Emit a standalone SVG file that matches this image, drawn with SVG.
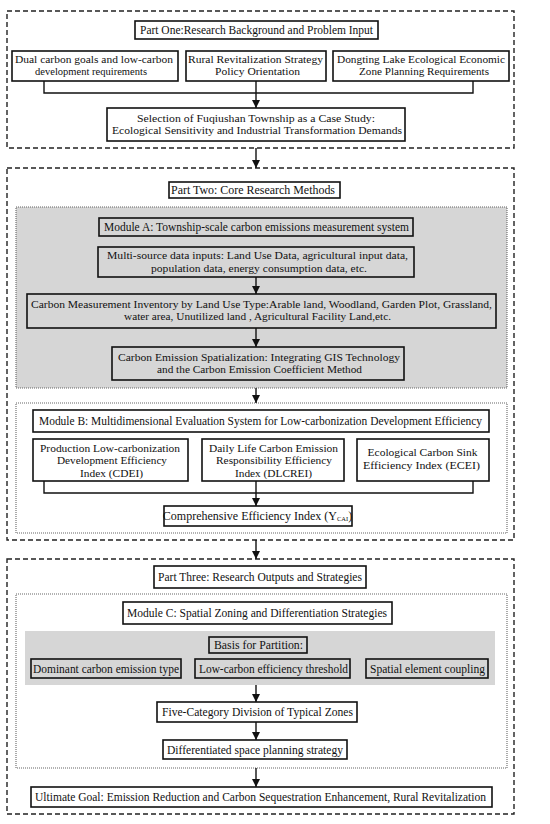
<svg xmlns="http://www.w3.org/2000/svg" width="550" height="824" viewBox="0 0 550 824">
<defs>
<marker id="ah" viewBox="0 0 8 10" refX="8" refY="5" markerWidth="8" markerHeight="10" markerUnits="userSpaceOnUse" orient="auto">
<path d="M0,1 L8,5 L0,9 Z" fill="#111"/>
</marker>
<style>
.part{fill:#fff;stroke:#222;stroke-width:1.4;stroke-dasharray:5 3}
.mod{stroke:#666;stroke-width:1.1;stroke-dasharray:1 1}
.grey{fill:#d6d6d6}
.box{fill:#fff;stroke:#111;stroke-width:1.6}
.gbox{fill:#d6d6d6;stroke:#111;stroke-width:1.6}
text{font-family:"Liberation Serif","Times New Roman",serif;font-size:12px;fill:#111;text-anchor:middle}
text.m{font-size:11px}
.c{fill:none;stroke:#111;stroke-width:1.4}
</style>
</defs>
<rect width="550" height="824" fill="#fff"/>

<g id="part1">
<rect class="part" x="7" y="11" width="507" height="137"/>
</g>
<g id="part2">
<rect class="part" x="7" y="168" width="507" height="372"/>
</g>
<g id="part3">
<rect class="part" x="7" y="559" width="507" height="255"/>
</g>
<g id="moduleA-area">
<rect class="mod grey" x="16" y="207" width="491" height="181"/>
</g>
<g id="moduleB-area">
<rect class="mod" fill="#fff" x="16" y="403" width="491" height="130"/>
</g>
<g id="moduleC-area">
<rect class="mod" fill="#fff" x="16" y="594" width="491" height="174"/>
<rect class="grey" x="25" y="631" width="470" height="54"/>
</g>

<g id="connectors">
<polyline class="c" points="44,81 44,93 473,93 473,81"/>
<line class="c" x1="256" y1="81" x2="256" y2="108" marker-end="url(#ah)"/>
<line class="c" x1="256" y1="148" x2="256" y2="168" marker-end="url(#ah)"/>
<line class="c" x1="256" y1="277" x2="256" y2="294" marker-end="url(#ah)"/>
<line class="c" x1="256" y1="328" x2="256" y2="347" marker-end="url(#ah)"/>
<line class="c" x1="256" y1="388" x2="256" y2="403" marker-end="url(#ah)"/>
<polyline class="c" points="44,481 44,493 473,493 473,481"/>
<line class="c" x1="256" y1="481" x2="256" y2="506" marker-end="url(#ah)"/>
<line class="c" x1="256" y1="540" x2="256" y2="559" marker-end="url(#ah)"/>
<line class="c" x1="256" y1="685" x2="256" y2="702" marker-end="url(#ah)"/>
<line class="c" x1="256" y1="722" x2="256" y2="740" marker-end="url(#ah)"/>
<line class="c" x1="256" y1="768" x2="256" y2="787" marker-end="url(#ah)"/>
</g>

<g id="part1-title">
<rect class="box" x="135" y="21" width="243" height="18"/>
<text x="256.5" y="34" textLength="233" lengthAdjust="spacingAndGlyphs">Part One:Research Background and Problem Input</text>
</g>
<g id="dual-carbon">
<rect class="box" x="12" y="51" width="166" height="30"/>
<text class="m" x="94" y="62.5" textLength="158" lengthAdjust="spacingAndGlyphs">Dual carbon goals and low-carbon</text>
<text class="m" x="91" y="75" textLength="112" lengthAdjust="spacingAndGlyphs">development requirements</text>
</g>
<g id="rural-revitalization">
<rect class="box" x="186" y="51" width="140" height="30"/>
<text class="m" x="255.5" y="62.5" textLength="135" lengthAdjust="spacingAndGlyphs">Rural Revitalization Strategy</text>
<text class="m" x="257.5" y="75" textLength="85" lengthAdjust="spacingAndGlyphs">Policy Orientation</text>
</g>
<g id="dongting">
<rect class="box" x="333" y="51" width="176" height="30"/>
<text class="m" x="421" y="62.5" textLength="168" lengthAdjust="spacingAndGlyphs">Dongting Lake Ecological Economic</text>
<text class="m" x="424" y="75" textLength="130" lengthAdjust="spacingAndGlyphs">Zone Planning Requirements</text>
</g>
<g id="selection">
<rect class="box" x="107" y="108" width="298" height="33"/>
<text class="m" x="256" y="121.5" textLength="238" lengthAdjust="spacingAndGlyphs">Selection of Fuqiushan Township as a Case Study:</text>
<text class="m" x="257" y="134" textLength="290" lengthAdjust="spacingAndGlyphs">Ecological Sensitivity and Industrial Transformation Demands</text>
</g>

<g id="part2-title">
<rect class="box" x="169" y="182" width="171" height="16"/>
<text x="253" y="194" textLength="164" lengthAdjust="spacingAndGlyphs">Part Two: Core Research Methods</text>
</g>
<g id="moduleA-title">
<rect class="gbox" x="99" y="218" width="314" height="18"/>
<text x="256.5" y="231" textLength="305" lengthAdjust="spacingAndGlyphs">Module A: Township-scale carbon emissions measurement system</text>
</g>
<g id="multi-source">
<rect class="gbox" x="98" y="247" width="316" height="30"/>
<text class="m" x="257.5" y="259" textLength="301" lengthAdjust="spacingAndGlyphs">Multi-source data inputs: Land Use Data, agricultural input data,</text>
<text class="m" x="259" y="271.5" textLength="216" lengthAdjust="spacingAndGlyphs">population data, energy consumption data, etc.</text>
</g>
<g id="carbon-inventory">
<rect class="gbox" x="27" y="294" width="469" height="34"/>
<text class="m" x="261.5" y="307.5" textLength="461" lengthAdjust="spacingAndGlyphs">Carbon Measurement Inventory by Land Use Type:Arable land, Woodland, Garden Plot, Grassland,</text>
<text class="m" x="257.5" y="320" textLength="267" lengthAdjust="spacingAndGlyphs">water area, Unutilized land , Agricultural Facility Land,etc.</text>
</g>
<g id="spatialization">
<rect class="gbox" x="112" y="347" width="292" height="33"/>
<text class="m" x="259" y="360.5" textLength="282" lengthAdjust="spacingAndGlyphs">Carbon Emission Spatialization: Integrating GIS Technology</text>
<text class="m" x="259.5" y="373" textLength="205" lengthAdjust="spacingAndGlyphs">and the Carbon Emission Coefficient Method</text>
</g>

<g id="moduleB-title">
<rect class="box" x="33" y="410" width="456" height="22"/>
<text x="260.5" y="425" textLength="443" lengthAdjust="spacingAndGlyphs">Module B: Multidimensional Evaluation System for Low-carbonization Development Efficiency</text>
</g>
<g id="cdei">
<rect class="box" x="33" y="439" width="155" height="42"/>
<text class="m" x="110" y="451.5" textLength="140" lengthAdjust="spacingAndGlyphs">Production Low-carbonization</text>
<text class="m" x="112" y="464" textLength="110" lengthAdjust="spacingAndGlyphs">Development Efficiency</text>
<text class="m" x="111.5" y="476.5" textLength="63" lengthAdjust="spacingAndGlyphs">Index (CDEI)</text>
</g>
<g id="dlcrei">
<rect class="box" x="202" y="439" width="142" height="42"/>
<text class="m" x="273.5" y="451.5" textLength="129" lengthAdjust="spacingAndGlyphs">Daily Life Carbon Emission</text>
<text class="m" x="274" y="464" textLength="116" lengthAdjust="spacingAndGlyphs">Responsibility Efficiency</text>
<text class="m" x="273.5" y="476.5" textLength="77" lengthAdjust="spacingAndGlyphs">Index (DLCREI)</text>
</g>
<g id="ecei">
<rect class="box" x="357" y="439" width="132" height="42"/>
<text class="m" x="422.5" y="456" textLength="110" lengthAdjust="spacingAndGlyphs">Ecological Carbon Sink</text>
<text class="m" x="421.5" y="468.5" textLength="117" lengthAdjust="spacingAndGlyphs">Efficiency Index (ECEI)</text>
</g>
<g id="comprehensive">
<rect class="box" x="164" y="506" width="188" height="20"/>
<text x="257.5" y="520" font-size="11">Comprehensive Efficiency Index (Y<tspan font-size="6.5" dy="1">CAI</tspan><tspan dy="-1">)</tspan></text>
</g>

<g id="part3-title">
<rect class="box" x="154" y="566" width="212" height="22"/>
<text x="260" y="581" textLength="204" lengthAdjust="spacingAndGlyphs">Part Three: Research Outputs and Strategies</text>
</g>
<g id="moduleC-title">
<rect class="box" x="123" y="602" width="269" height="22"/>
<text x="257" y="617" textLength="260" lengthAdjust="spacingAndGlyphs">Module C: Spatial Zoning and Differentiation Strategies</text>
</g>
<g id="basis">
<rect class="gbox" x="209" y="637" width="98" height="16"/>
<text x="258.5" y="649" textLength="89" lengthAdjust="spacingAndGlyphs">Basis for Partition:</text>
</g>
<g id="dominant">
<rect class="gbox" x="31" y="659" width="150" height="19"/>
<text x="106" y="673" textLength="146" lengthAdjust="spacingAndGlyphs">Dominant carbon emission type</text>
</g>
<g id="threshold">
<rect class="gbox" x="195" y="659" width="155" height="19"/>
<text x="273.5" y="673" textLength="149" lengthAdjust="spacingAndGlyphs">Low-carbon efficiency threshold</text>
</g>
<g id="coupling">
<rect class="gbox" x="366" y="659" width="122" height="19"/>
<text x="427.5" y="673" textLength="115" lengthAdjust="spacingAndGlyphs">Spatial element coupling</text>
</g>
<g id="five-category">
<rect class="box" x="157" y="702" width="200" height="20"/>
<text x="257.5" y="716" textLength="191" lengthAdjust="spacingAndGlyphs">Five-Category Division of Typical Zones</text>
</g>
<g id="differentiated">
<rect class="box" x="163" y="740" width="184" height="19"/>
<text x="255" y="754" textLength="176" lengthAdjust="spacingAndGlyphs">Differentiated space planning strategy</text>
</g>
<g id="ultimate">
<rect class="box" x="31" y="787" width="461" height="20"/>
<text x="260.5" y="801" textLength="451" lengthAdjust="spacingAndGlyphs">Ultimate Goal: Emission Reduction and Carbon Sequestration Enhancement, Rural Revitalization</text>
</g>
</svg>
